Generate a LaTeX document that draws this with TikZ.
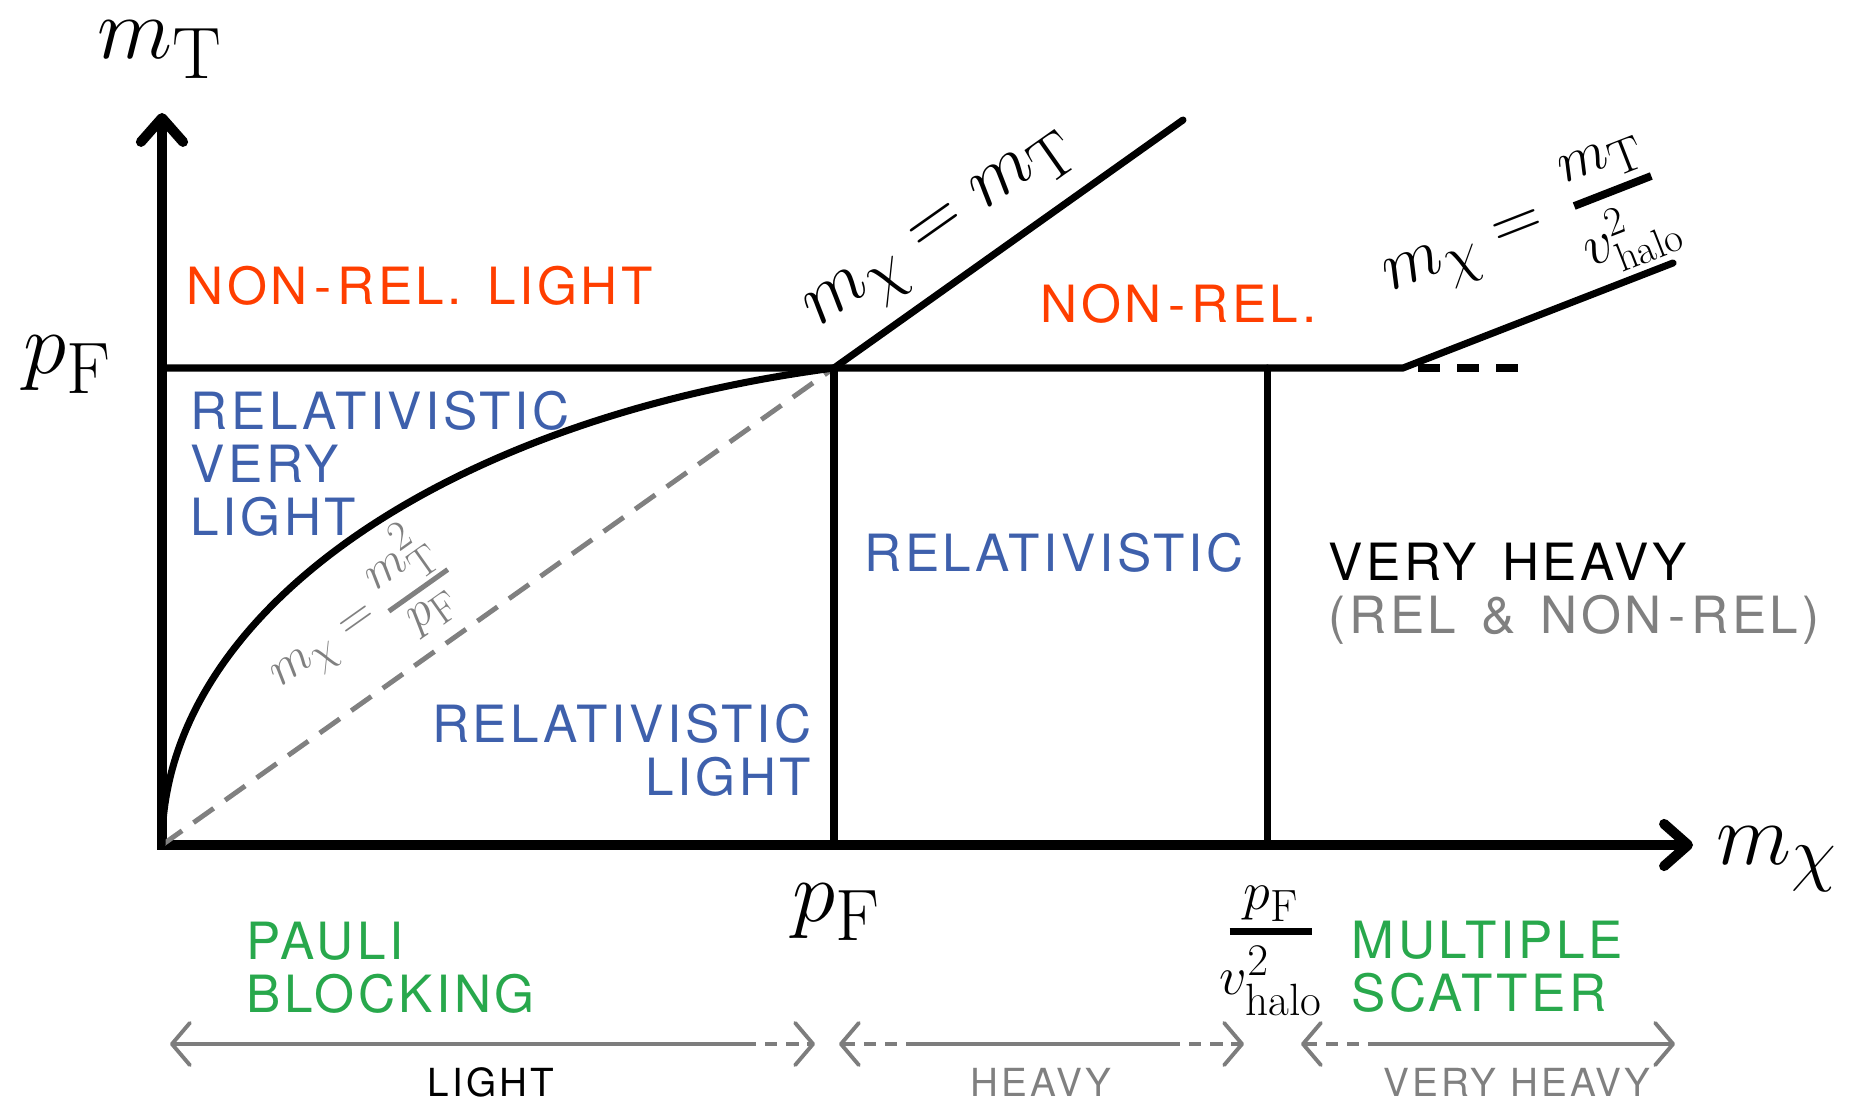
\documentclass[tikz,border=0pt]{standalone}
\usepackage{amsmath}
\usepackage{graphicx}
\usepackage{fontspec}
\usetikzlibrary{arrows.meta}
\newfontfamily\regionfont[LetterSpace=7,WordSpace=1.4]{TeX Gyre Heros}
\newfontfamily\spanfont[LetterSpace=8]{TeX Gyre Heros}
\definecolor{nonrelred}{RGB}{255,62,0}
\definecolor{relblue}{RGB}{62,96,172}
\definecolor{procgreen}{RGB}{40,168,76}
\definecolor{guidegray}{RGB}{128,128,128}
\definecolor{spangray}{RGB}{125,125,125}
\newcommand{\hy}{\kern0.12em-\kern0.12em}
% fraction with a heavy bar: thickness, gap above, gap below, bar width, num, den
\newcommand{\barfrac}[6]{\vcenter{\offinterlineskip\ialign{\hfil##\hfil\cr
  $\textstyle#5$\cr\noalign{\kern#2}\vrule width#4 height#1\cr\noalign{\kern#3}
  $\textstyle#6$\cr}}}
\newcommand{\vhalo}{v^{\scriptscriptstyle 2}_{\scriptscriptstyle\mathrm{halo}}}

\begin{document}
\begin{tikzpicture}[
  x=0.01cm, y=-0.01cm,
  axisline/.style={line width=2.85pt, {Straight Barb[round,length=6.8pt,width=12pt]}-{Straight Barb[round,length=6.8pt,width=12pt]}},
  regline/.style={line width=2pt, line cap=round},
  guideline/.style={line width=1.4pt, draw=guidegray, dash pattern=on 7pt off 4pt},
  spanline/.style={line width=1.1pt, draw=spangray},
  spandash/.style={spanline, dash pattern=on 3.5pt off 2.5pt},
  lefttip/.style={{Straight Barb[round,length=5.1pt,width=12pt]}-},
  righttip/.style={-{Straight Barb[round,length=5.1pt,width=12pt]}},
  region/.style={font=\regionfont\fontsize{14.6}{15.1}\selectfont, inner sep=0pt},
  spanlab/.style={font=\spanfont\fontsize{11}{13}\selectfont, inner sep=0pt},
  mathlab/.style={font=\Huge, inner sep=0pt, transform shape, scale=#1},
  bigmath/.style={mathlab=1},
  slopemath/.style={inner sep=0pt, anchor=base west}
]
\useasboundingbox (0,0) rectangle (1852,1104);

% corner points
\coordinate (O) at (162,845);
\coordinate (ytip) at (162,113);
\coordinate (xtip) at (1693,845);
\coordinate (pFleftpt) at (162,368);
\coordinate (pFpt) at (834,368);
\coordinate (pFbotpt) at (834,845);
\coordinate (vhtop) at (1267,368);
\coordinate (vhbot) at (1267,845);
\coordinate (kink) at (1403,368);
\coordinate (diagend) at (1183,120);
\coordinate (slantend) at (1673,263);
\coordinate (dashstart) at (1418,368);
\coordinate (dashend) at (1522,368);

% Axes
\draw[axisline] (ytip) |- (xtip);

% Boundaries
\draw[guideline] (O) -- (pFpt);
\draw[regline] (O) .. controls (162,615) and (440,420) .. (pFpt);
\draw[regline] (pFleftpt) -- (kink) -- (slantend);
\draw[regline] (pFpt) -- (diagend);
\draw[regline] (pFpt) -- (pFbotpt);
\draw[regline] (vhtop) -- (vhbot);
\draw[regline, line cap=butt, dash pattern=on 6.26pt off 4.84pt] (dashstart) -- (dashend);

% Axis labels
\node[bigmath, anchor=base] (ylab) at (160,59) {$m_\mathrm{T}$};
\node[bigmath, anchor=base] (pFleft) at (68,374) {$p_\mathrm{F}$};
\node[bigmath, anchor=base west] (xlab) at (1716,864) {$m_\chi$};
\node[bigmath, anchor=base] (pFbot) at (837,921) {$p_\mathrm{F}$};
\node[mathlab=0.62] (fracbot) at (1271,951)
  {$\barfrac{3.2pt}{3pt}{5pt}{38pt}{p_\mathrm{F}}{v^2_\mathrm{halo}}$};

% Boundary labels
\node[slopemath, mathlab=0.87, rotate=35.2] (diaglab) at (818,328) {$m_\chi = m_\mathrm{T}$};
\node[slopemath, mathlab=0.8, rotate=21.3] (slantlab) at (1390,292)
  {$m_\chi = \kern3pt\lower7pt\hbox{$\vcenter{\hbox{\scalebox{0.84}{$\barfrac{3.3pt}{3pt}{5pt}{35pt}{m_\mathrm{T}}{\vhalo}$}}}$}$};
\node[slopemath, mathlab=0.57, rotate=35.3, text=guidegray] (guidelab) at (280,688)
  {$m_\chi = \barfrac{2.5pt}{1.5pt}{4pt}{36pt}{m^2_\mathrm{T}}{p_\mathrm{F}}$};

% Regions
\node[region, text=nonrelred, anchor=north west] (nonrelLight) at (186,265) {NON\hy REL. LIGHT};
\node[region, text=relblue, anchor=north west, align=left] (relVeryLight) at (190,390) {RELATIVISTIC\\VERY\\LIGHT};
\node[region, text=relblue, anchor=north east, align=right] (relLight) at (812,703) {RELATIVISTIC\\LIGHT};
\node[region, text=nonrelred, anchor=north west] (nonrel) at (1040,283) {NON\hy REL.};
\node[region, text=relblue] (relMid) at (1054,553) {RELATIVISTIC};
\node[region, anchor=north west, align=left] (veryHeavy) at (1328,542) {VERY HEAVY\\\textcolor{guidegray}{(REL \& NON\hy REL)}};
\node[region, text=procgreen, anchor=north west, align=left] (pauli) at (246,921) {PAULI\\BLOCKING};
\node[region, text=procgreen, anchor=north west, align=left] (multiple) at (1351,920) {MULTIPLE\\SCATTER};

% Mass ranges
\coordinate (la) at (170,1044);
\coordinate (lb) at (744,1044);
\coordinate (lc) at (815,1044);
\coordinate (ha) at (839,1044);
\coordinate (hb) at (916,1044);
\coordinate (hc) at (1168,1044);
\coordinate (hd) at (1244,1044);
\coordinate (va) at (1301,1044);
\coordinate (vb) at (1378,1044);
\coordinate (vc) at (1675,1044);
\draw[spanline, lefttip] (la) -- (lb);
\draw[spandash, righttip] (lb) -- (lc);
\draw[spandash, lefttip] (ha) -- (hb);
\draw[spanline] (hb) -- (hc);
\draw[spandash, righttip] (hc) -- (hd);
\draw[spandash, lefttip] (va) -- (vb);
\draw[spanline, righttip] (vb) -- (vc);
\node[spanlab] (lightLab) at (491,1082) {LIGHT};
\node[spanlab, text=guidegray] (heavyLab) at (1041,1082) {HEAVY};
\node[spanlab, text=guidegray] (vheavyLab) at (1517,1082) {VERY HEAVY};
\end{tikzpicture}
\end{document}
